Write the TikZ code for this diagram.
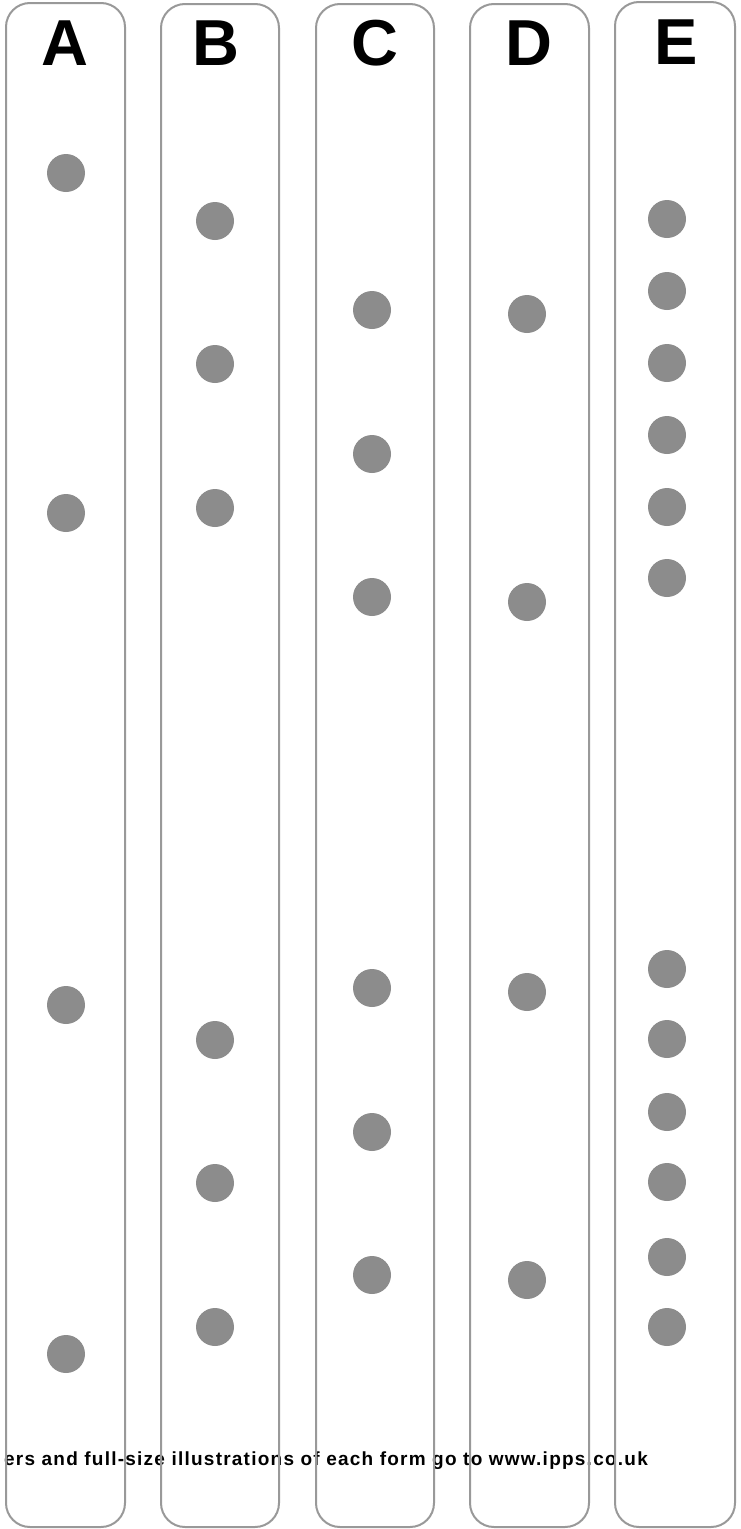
\documentclass[tikz,border=0pt]{standalone}
\usepackage{fontspec}
\setmainfont{Liberation Sans}
\newfontfamily\footfont[LetterSpace=6.5]{Liberation Sans}
\definecolor{dotgray}{HTML}{8C8C8C}
\definecolor{linegray}{HTML}{999999}
\tikzset{
  dot/.style={circle,fill=dotgray,draw=none,minimum size=38pt,inner sep=0pt},
  column/.style={draw=linegray,line width=2pt,rounded corners=24pt},
  letter/.style={anchor=base,font=\bfseries\fontsize{65}{65}\selectfont,inner sep=0pt},
  foot/.style={anchor=base east,font=\footfont\bfseries\fontsize{19}{19}\selectfont,inner sep=0pt}
}
\begin{document}
\begin{tikzpicture}[x=1pt,y=-1pt]
\useasboundingbox (0,0) rectangle (741,1529);
\begin{scope}
\clip (0,0) rectangle (741,1529);
\node[foot] (foot) at (648,1465) {ers and full-size illustrations of each form go to www.ipps.co.uk};
\end{scope}
% columns
\draw[column] (6,3) rectangle (125,1527);
\draw[column] (161,4) rectangle (279,1527);
\draw[column] (316,4) rectangle (434,1527);
\draw[column] (470,4) rectangle (589,1527);
\draw[column] (615,2) rectangle (735,1527);
% letters
\node[letter] (lA) at (65,65) {A};
\node[letter] (lB) at (216,65) {B};
\node[letter] (lC) at (375,65) {C};
\node[letter] (lD) at (529,65) {D};
\node[letter] (lE) at (676,64) {E};
% A
\node[dot] (a1) at (66,173) {};
\node[dot] (a2) at (66,513) {};
\node[dot] (a3) at (66,1005) {};
\node[dot] (a4) at (66,1354) {};
% B
\node[dot] (b1) at (215,221) {};
\node[dot] (b2) at (215,364) {};
\node[dot] (b3) at (215,508) {};
\node[dot] (b4) at (215,1040) {};
\node[dot] (b5) at (215,1183) {};
\node[dot] (b6) at (215,1327) {};
% C
\node[dot] (c1) at (372,310) {};
\node[dot] (c2) at (372,454) {};
\node[dot] (c3) at (372,597) {};
\node[dot] (c4) at (372,988) {};
\node[dot] (c5) at (372,1132) {};
\node[dot] (c6) at (372,1275) {};
% D
\node[dot] (d1) at (527,314) {};
\node[dot] (d2) at (527,602) {};
\node[dot] (d3) at (527,992) {};
\node[dot] (d4) at (527,1280) {};
% E
\node[dot] (e1) at (667,219) {};
\node[dot] (e2) at (667,291) {};
\node[dot] (e3) at (667,363) {};
\node[dot] (e4) at (667,435) {};
\node[dot] (e5) at (667,507) {};
\node[dot] (e6) at (667,578) {};
\node[dot] (e7) at (667,969) {};
\node[dot] (e8) at (667,1039) {};
\node[dot] (e9) at (667,1112) {};
\node[dot] (e10) at (667,1182) {};
\node[dot] (e11) at (667,1257) {};
\node[dot] (e12) at (667,1327) {};
\end{tikzpicture}
\end{document}
